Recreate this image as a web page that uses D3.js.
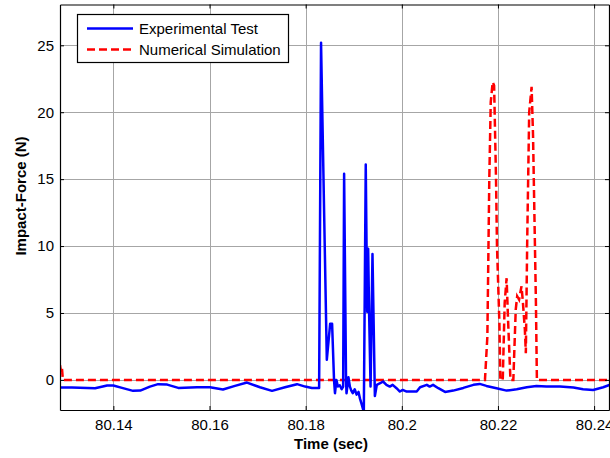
<!DOCTYPE html>
<html>
<head>
<meta charset="utf-8">
<script src="https://cdn.jsdelivr.net/npm/d3@7"></script>
<style>
  body { margin: 0; background: #fff; }
  text { font-family: Arial, "Liberation Sans", sans-serif; }
</style>
</head>
<body>
<div id="chart"></div>
<script>
// data
const expTime = [80.1289, 80.1314, 80.1362, 80.1387, 80.14, 80.1418, 80.1441, 80.1456, 80.1476, 80.1493,
  80.1512, 80.1535, 80.1574, 80.1601, 80.1628, 80.1653, 80.1678, 80.1705, 80.173, 80.1757,
  80.1782, 80.1799, 80.1813, 80.1826, 80.1828, 80.1832, 80.1844, 80.1851, 80.1855, 80.1859,
  80.1861, 80.1864, 80.1867, 80.1871, 80.1875, 80.1878, 80.188, 80.1884, 80.1885, 80.1889,
  80.1892, 80.1895, 80.1898, 80.1902, 80.1906, 80.191, 80.1913, 80.1916, 80.1921, 80.1925,
  80.1928, 80.193, 80.1932, 80.1935, 80.1939, 80.1944, 80.1948, 80.1955, 80.1961, 80.1968,
  80.1975, 80.1981, 80.1989, 80.1996, 80.2002, 80.201, 80.2023, 80.2031, 80.2038, 80.2052,
  80.2058, 80.2065, 80.2076, 80.209, 80.2107, 80.2128, 80.2149, 80.2162, 80.2176, 80.2197,
  80.2218, 80.2239, 80.226, 80.228, 80.2301, 80.2329, 80.2357, 80.2377, 80.2398, 80.2419, 80.2433];
const expForce = [-0.57, -0.57, -0.62, -0.42, -0.42, -0.6, -0.82, -0.8, -0.5, -0.32,
  -0.35, -0.6, -0.55, -0.55, -0.72, -0.45, -0.2, -0.55, -0.82, -0.55,
  -0.32, -0.5, -0.6, -0.6, -0.6, 25.2, 1.5, 4.2, 4.2, 0.0,
  -1.0, 0.0, -0.5, -0.4, -0.7, -0.5, 15.4, 0.0, -1.0, 0.2,
  -0.5, -0.8, -1.0, -0.7, -1.1, -0.9, -1.4, -1.75, -2.4, 16.1,
  5.1, 9.8, 5.0, -0.5, 9.4, -1.2, -0.37, -0.25, -0.12, -0.37,
  -0.5, -0.37, -0.62, -0.87, -0.75, -0.87, -0.87, -0.87, -0.55, -0.37,
  -0.5, -0.37, -0.62, -0.9, -0.8, -0.6, -0.37, -0.3, -0.45, -0.62,
  -0.8, -0.7, -0.55, -0.45, -0.5, -0.5, -0.57, -0.7, -0.75, -0.55, -0.37];

const simTime = [80.1289, 80.1291, 80.1293, 80.1295, 80.2173, 80.2178, 80.2182, 80.2185, 80.2189, 80.2192,
  80.2196, 80.2198, 80.2203, 80.2205, 80.221, 80.2214, 80.2218, 80.2221, 80.2226, 80.2232,
  80.2237, 80.224, 80.2244, 80.2249, 80.2252, 80.2256, 80.2258, 80.2261, 80.2265, 80.227,
  80.2273, 80.2279, 80.2281, 80.2433];
const simForce = [1.1, 0.6, 0.9, 0, 0, 3.25, 15, 20.75, 22.25, 22,
  15, 10, 4.25, 0, 0, 5.75, 7.6, 4.5, 0, 0,
  5.25, 6.25, 6.0, 7.0, 5.75, 3.75, 2.0, 10.75, 20, 21.9,
  18.25, 5.75, 0, 0];

const xTicks = [80.14, 80.16, 80.18, 80.2, 80.22, 80.24];
const xTickLabels = ["80.14", "80.16", "80.18", "80.2", "80.22", "80.24"];
const yTicks = [0, 5, 10, 15, 20, 25];
const seriesNames = ["Experimental Test", "Numerical Simulation"];

const W = 610, H = 458;
const mLeft = 60, mRight = 609, mTop = 4.5, mBottom = 410;

const svg = d3.select("#chart").append("svg")
    .attr("width", W)
    .attr("height", H);

const x = d3.scaleLinear().domain([80.1289, 80.2431]).range([mLeft, mRight]);
const y = d3.scaleLinear().domain([-2.25, 28.05]).range([mBottom, mTop]);

// grid
const grid = svg.append("g").attr("stroke", "#a6a6a6").attr("stroke-width", 1);
grid.selectAll(".gx").data(xTicks).enter().append("line")
    .attr("x1", d => Math.round(x(d)) + 0.5).attr("x2", d => Math.round(x(d)) + 0.5)
    .attr("y1", mTop).attr("y2", mBottom);
grid.selectAll(".gy").data(yTicks).enter().append("line")
    .attr("y1", d => Math.round(y(d)) + 0.5).attr("y2", d => Math.round(y(d)) + 0.5)
    .attr("x1", mLeft).attr("x2", mRight);

svg.append("clipPath").attr("id", "clip")
  .append("rect").attr("x", mLeft).attr("y", mTop).attr("width", mRight - mLeft).attr("height", mBottom - mTop);

const line = d3.line().x(d => x(d[0])).y(d => y(d[1]));

svg.append("path")
    .datum(simTime.map((t, i) => [t, simForce[i]]))
    .attr("clip-path", "url(#clip)")
    .attr("fill", "none")
    .attr("stroke", "#ff0000")
    .attr("stroke-width", 2.5)
    .attr("stroke-dasharray", "8,4")
    .attr("d", line);

svg.append("path")
    .datum(expTime.map((t, i) => [t, expForce[i]]))
    .attr("clip-path", "url(#clip)")
    .attr("fill", "none")
    .attr("stroke", "#0000ff")
    .attr("stroke-width", 2.5)
    .attr("stroke-linejoin", "round")
    .attr("d", line);

// axes (ticks pointing inward)
const xAxis = svg.append("g").attr("transform", `translate(0,${mBottom})`)
    .call(d3.axisBottom(x).tickValues(xTicks).tickFormat((d, i) => xTickLabels[i])
        .tickSizeInner(-4).tickSizeOuter(0).tickPadding(9));
const xTop = svg.append("g").attr("transform", `translate(0,${mTop})`)
    .call(d3.axisTop(x).tickValues(xTicks).tickFormat("").tickSizeInner(-4).tickSizeOuter(0));
const yAxis = svg.append("g").attr("transform", `translate(${mLeft},0)`)
    .call(d3.axisLeft(y).tickValues(yTicks).tickSizeInner(-4).tickSizeOuter(0).tickPadding(6));
const yRight = svg.append("g").attr("transform", `translate(${mRight},0)`)
    .call(d3.axisRight(y).tickValues(yTicks).tickFormat("").tickSizeInner(-4).tickSizeOuter(0));

[xAxis, xTop, yAxis, yRight].forEach(g => {
  g.select(".domain").attr("stroke", "#000").attr("stroke-width", 1.2);
  g.selectAll("text").attr("font-size", 15).attr("fill", "#000")
      .attr("font-family", "Arial, 'Liberation Sans', sans-serif");
});

svg.append("text")
    .attr("x", 331).attr("y", 449)
    .attr("text-anchor", "middle")
    .attr("font-size", 15).attr("font-weight", "bold")
    .text("Time (sec)");

svg.append("text")
    .attr("transform", "translate(26,196) rotate(-90)")
    .attr("text-anchor", "middle")
    .attr("font-size", 15).attr("font-weight", "bold")
    .text("Impact-Force (N)");

// legend
const legend = svg.append("g");
legend.append("rect")
    .attr("x", 77.5).attr("y", 14.5).attr("width", 211).attr("height", 48)
    .attr("fill", "#fff").attr("stroke", "#000").attr("stroke-width", 1.2);
const legColors = ["#0000ff", "#ff0000"];
const legDash = [null, "8,4"];
seriesNames.forEach((name, i) => {
  const ly = 28.5 + i * 21;
  legend.append("line")
      .attr("x1", 87).attr("x2", 133).attr("y1", ly).attr("y2", ly)
      .attr("stroke", legColors[i]).attr("stroke-width", 2.5)
      .attr("stroke-dasharray", legDash[i]);
  legend.append("text")
      .attr("x", 139).attr("y", ly + 5)
      .attr("font-size", 15)
      .text(name);
});
</script>
</body>
</html>
